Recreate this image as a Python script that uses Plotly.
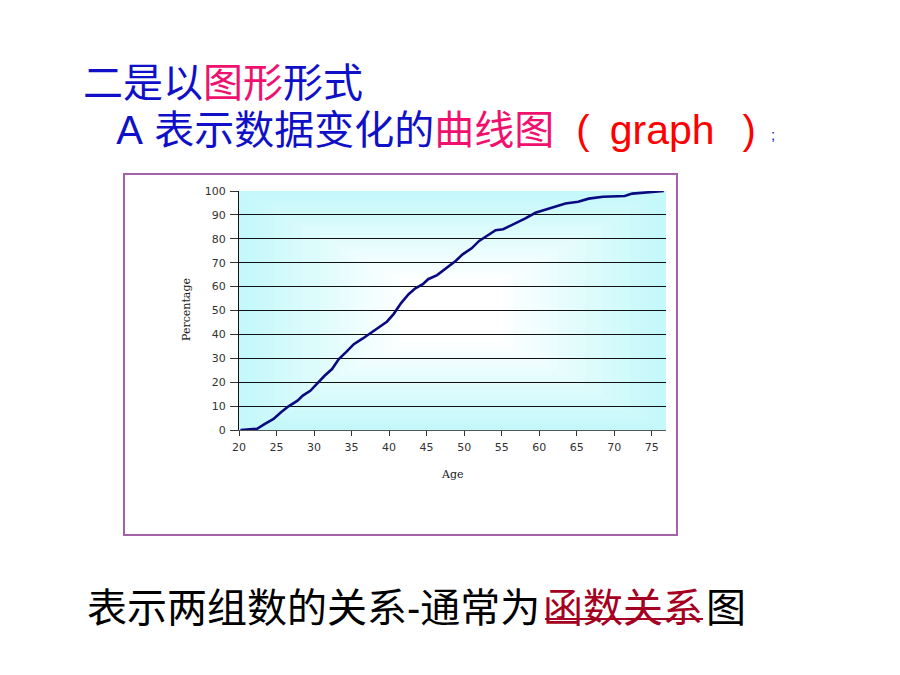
import plotly.graph_objects as go

# ---- data ----
age = [20.2, 22.4, 23.4, 24.6, 25.6, 26.6, 27.8, 28.5, 29.5, 30.5, 31.4, 32.4, 33.3,
       34.3, 35.3, 36.5, 37.5, 38.7, 39.7, 40.6, 41.6, 42.6, 43.5, 44.5, 45.2, 46.4,
       47.7, 48.9, 49.8, 51.0, 52.0, 53.0, 54.2, 55.2, 56.6, 58.1, 59.5, 60.8, 62.0,
       63.5, 65.2, 66.6, 68.5, 71.4, 72.4, 74.4, 76.6]
percentage = [0, 0.5, 2.5, 4.6, 7.4, 9.9, 12.3, 14.4, 16.4, 19.9, 22.7, 25.5, 29.7,
              32.7, 35.9, 38.3, 40.5, 42.9, 45.3, 48.5, 53.1, 56.8, 59.3, 61.0, 63.1, 64.8,
              68.0, 70.8, 73.5, 76.0, 79.1, 81.2, 83.6, 84.0, 86.1, 88.4, 90.9, 92.1, 93.5,
              94.8, 95.5, 96.8, 97.6, 97.9, 98.9, 99.3, 100]
x_ticks = [20, 25, 30, 35, 40, 45, 50, 55, 60, 65, 70, 75]
y_ticks = [0, 10, 20, 30, 40, 50, 60, 70, 80, 90, 100]

# the page body has an 8px default margin: the figure is shrunk and all
# positions are given in page pixels, converted below
OFF = 8
W, H = 900 - 2 * OFF, 675 - 2 * OFF
PL, PR, PT, PB = 239, 666, 191, 430          # plot area in page pixels
L, T = PL - OFF, PT - OFF
R, B = W - (PR - OFF), H - (PB - OFF)
PW, PH = W - L - R, H - T - B


def px(x):
    return (x - PL) / PW


def py(y):
    return (PB - y) / PH


fig = go.Figure()
fig.add_trace(go.Scatter(x=age, y=percentage, mode="lines",
                         line=dict(color="#0a0a80", width=2.6), showlegend=False,
                         hoverinfo="skip"))

shapes = []
# rectangular gradient: cyan edges -> white centre
n = 18
outer = (196, 248, 250)
for i in range(n + 1):
    t = i / n
    ins_x = 0.38 * t
    ins_y = 0.37 * t
    c = tuple(int(round(o + (255 - o) * t)) for o in outer)
    shapes.append(dict(type="rect", xref="x domain", yref="y domain",
                       x0=ins_x, x1=1 - ins_x, y0=ins_y, y1=1 - ins_y,
                       fillcolor="rgb(%d,%d,%d)" % c, line=dict(width=0), layer="below"))
# outer purple frame
shapes.append(dict(type="rect", xref="paper", yref="paper",
                   x0=px(124), x1=px(677), y0=py(535), y1=py(174),
                   line=dict(color="#a462a8", width=2), fillcolor="rgba(0,0,0,0)"))
# underline under the red words
shapes.append(dict(type="line", xref="paper", yref="paper",
                   x0=px(545), x1=px(703), y0=py(619), y1=py(619),
                   line=dict(color="#a50021", width=2)))

# Latin font first (compact line metrics), CJK glyphs come from Noto Sans CJK SC
CJK = "Liberation Sans, Noto Sans CJK SC"
BLUE = "#1010c8"
PINK = "#f0106e"
RED = "#ff0000"
DARKRED = "#a50021"
NB, EN, TH = "\u00a0", "\u2002", "\u2009"

ann = []


def text(s, x, y, size, color, family=CJK, anchor="left", angle=0):
    ann.append(dict(text=s, x=px(x), y=py(y), xref="paper", yref="paper",
                    xanchor=anchor, yanchor="middle", showarrow=False, textangle=angle,
                    align="left", font=dict(family=family, size=size, color=color)))


def sp(s, style):
    return "<span style='%s'>%s</span>" % (style, s)


F40 = "font-size:40px"
line1 = (sp("二是以", F40) + sp("图形", F40 + ";color:" + PINK) + sp("形式", F40))
line2 = (sp(NB * 3 + "A" + NB, F40) +
         sp("表示数据变化的", F40) +
         sp("曲线图", F40 + ";color:" + PINK) +
         sp(NB * 2 + "(" + EN, F40 + ";color:" + RED) +
         sp("graph", "font-size:41px;color:" + RED) +
         sp(EN + TH + ")", F40 + ";color:" + RED))
# base size 36 gives the reference's line spacing; glyphs are drawn at 40px
text(line1 + "<br>" + line2, 81, 107, 36, BLUE)
text(";", 773, 134, 15, BLUE, family="Liberation Sans", anchor="center")

text("表示两组数的关系-通常为", 85, 608, 40, "#000000")
text("函数关系", 541, 608, 40, DARKRED)
text("图", 704, 608, 40, "#000000")

text("Percentage", 186, 310, 11, "#222222", family="DejaVu Serif", anchor="center", angle=-90)
text("Age", 452, 474, 11, "#222222", family="DejaVu Serif", anchor="center")

fig.update_layout(
    width=W, height=H,
    margin=dict(l=L, r=R, t=T, b=B, pad=0),
    paper_bgcolor="white",
    plot_bgcolor="rgb(196,248,250)",
    shapes=shapes,
    annotations=ann,
    xaxis=dict(range=[20, 76.9], tickvals=x_ticks, ticktext=[str(v) for v in x_ticks],
               showgrid=False, zeroline=False, showline=True, linecolor="#555555",
               linewidth=1, ticks="outside", ticklen=5, tickcolor="#333333",
               ticklabelstandoff=2,
               tickfont=dict(family="DejaVu Sans", size=11, color="#333333"), fixedrange=True),
    yaxis=dict(range=[0, 100], tickvals=y_ticks, ticktext=[str(v) for v in y_ticks],
               showgrid=True, gridcolor="#111111", gridwidth=1, zeroline=False,
               showline=True, linecolor="#111111", linewidth=1, ticks="outside",
               ticklen=8, tickcolor="#333333", ticklabelstandoff=2,
               tickfont=dict(family="DejaVu Sans", size=11, color="#333333"), fixedrange=True),
)

fig.write_html("out.html")
